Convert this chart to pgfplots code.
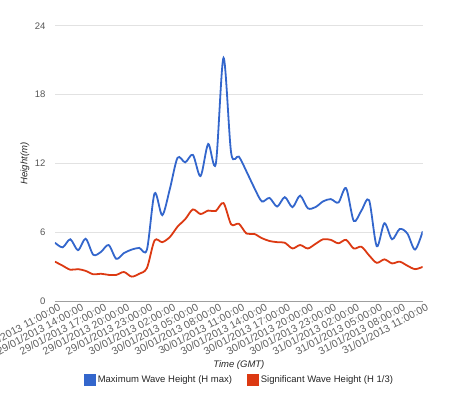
\documentclass[border=0pt]{standalone}
\usepackage{pgfplots}
\pgfplotsset{compat=1.18}
\usepackage{pgfplotstable}
\usepackage{fontspec}
\setmainfont{Liberation Sans}
\definecolor{gblue}{HTML}{3366CC}
\definecolor{gred}{HTML}{DC3912}
\definecolor{gtext}{HTML}{555555}
\definecolor{gxtext}{HTML}{606060}
\definecolor{ggrid}{HTML}{E2E2E2}

\pgfplotstableread{
h hmax hsig
0 5.1 3.45
1 4.7 3.1
2 5.4 2.75
3 4.45 2.8
4 5.45 2.65
5 4.05 2.35
6 4.3 2.4
7 4.9 2.3
8 3.7 2.3
9 4.2 2.55
10 4.5 2.15
11 4.65 2.4
12 4.5 2.9
13 9.4 5.3
14 7.5 5.15
15 9.8 5.6
16 12.5 6.5
17 12.1 7.15
18 12.75 8.0
19 10.9 7.6
20 13.7 7.9
21 12.0 7.87
22 21.2 8.55
23 12.9 6.7
24 12.6 6.75
25 11.3 5.9
26 9.9 5.87
27 8.7 5.5
28 9.0 5.25
29 8.25 5.15
30 9.07 5.1
31 8.2 4.6
32 9.2 4.9
33 8.1 4.6
34 8.2 5.0
35 8.7 5.4
36 8.9 5.35
37 8.6 5.05
38 9.85 5.35
39 7.0 4.6
40 7.9 4.75
41 8.8 4.0
42 4.8 3.35
43 6.8 3.65
44 5.4 3.3
45 6.3 3.45
46 5.9 3.1
47 4.5 2.8
48 6.1 3.0
}\wavedata

\begin{document}
\begin{tikzpicture}
\path[use as bounding box] (-55pt,-91.7pt) rectangle (396pt,301.3pt);
\begin{axis}[
  at={(0pt,0pt)}, anchor=south west,
  scale only axis, width=367.7pt, height=275.6pt,
  xmin=0, xmax=48, ymin=0, ymax=24,
  axis line style={draw=none},
  major tick length=0pt,
  /pgf/number format/assume math mode=true,
  ytick={6,12,18,24},
  extra y ticks={0},
  extra y tick style={grid style={color=gray!75, line width=0.9pt}},
  ymajorgrids,
  grid style={color=ggrid, line width=0.9pt},
  xtick={0,3,...,48},
  xticklabels={29/01/2013 11:00:00,29/01/2013 14:00:00,29/01/2013 17:00:00,29/01/2013 20:00:00,29/01/2013 23:00:00,30/01/2013 02:00:00,30/01/2013 05:00:00,30/01/2013 08:00:00,30/01/2013 11:00:00,30/01/2013 14:00:00,30/01/2013 17:00:00,30/01/2013 20:00:00,30/01/2013 23:00:00,31/01/2013 02:00:00,31/01/2013 05:00:00,31/01/2013 08:00:00,31/01/2013 11:00:00},
  tick label style={font=\fontsize{9.5}{11}\selectfont, text=gtext},
  yticklabel style={anchor=east, xshift=-6pt},
  xticklabel style={font=\fontsize{10.5}{12}\selectfont, text=gxtext, rotate=28, anchor=east, xshift=5pt, yshift=-7pt},
  xlabel={Time (GMT)},
  ylabel={Height(m)},
  every axis x label/.style={at={(axis description cs:0.5,-0.231)}, anchor=center, font=\fontsize{9.5}{11}\selectfont\itshape, text=black!85},
  every axis y label/.style={at={(axis description cs:-0.0816,0.5)}, rotate=90, anchor=center, font=\fontsize{9.5}{11}\selectfont\itshape, text=black!85},
  legend style={at={(axis description cs:0.5018,-0.2856)}, anchor=center, draw=none, fill=none,
    font=\fontsize{9.5}{11}\selectfont, text=black!85, legend columns=2,
    /tikz/every even column/.append style={column sep=13pt}},
  legend cell align=left,
  legend image code/.code={\fill[#1] (0pt,-5pt) rectangle (10pt,5pt);},
]
\addplot[color=gblue, line width=1.8pt, smooth, tension=0.5, no marks] table[x=h, y=hmax] {\wavedata};
\addlegendentry{Maximum Wave Height (H max)}
\addplot[color=gred, line width=1.8pt, smooth, tension=0.5, no marks] table[x=h, y=hsig] {\wavedata};
\addlegendentry{Significant Wave Height (H 1/3)}
\end{axis}
\end{tikzpicture}
\end{document}
